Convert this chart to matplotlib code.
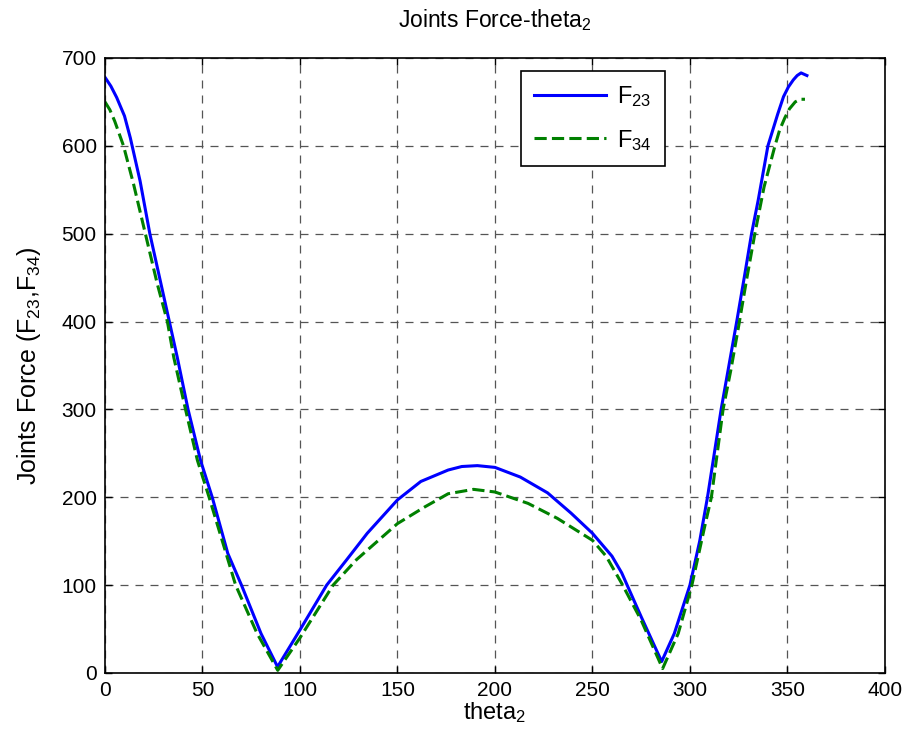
import matplotlib
matplotlib.use('Agg')
import matplotlib.pyplot as plt

plt.rcParams.update({
    'font.family': ['Liberation Sans', 'DejaVu Sans'],
    'mathtext.fontset': 'custom',
    'mathtext.rm': 'Liberation Sans',
    'mathtext.it': 'Liberation Sans',
    'mathtext.default': 'regular',
})

# joint force samples (crank angle in degrees)
theta_f23 = [0, 3, 6, 10, 13, 18, 23, 28, 33, 37, 42.6, 49, 55, 63, 70, 80,
             88.5, 100, 113.7, 124, 134.5, 150, 162, 176, 183, 191, 200, 213,
             227, 239, 250, 260, 265, 275, 285.5, 292, 300, 305, 309, 316, 320,
             324, 328, 331.6, 335, 340, 345, 348, 350.5, 353, 355, 357, 360]
f23 = [678, 668, 655, 634, 609, 560, 500, 450, 400, 360, 300, 242, 200, 136,
       100, 45, 7, 49, 100, 129, 159, 197, 218, 231, 235, 236, 234, 223,
       205, 182, 159, 133, 114, 64, 13, 45, 100, 150, 200, 300, 350,
       400, 452, 500, 538, 600, 636, 656, 667, 675, 680, 683, 680]

theta_f34 = [0, 2.5, 5, 9.5, 14.7, 20.7, 26.8, 32, 35.3, 41.3, 47.4, 53.4, 67,
             78, 88.6, 100, 117, 129, 150, 164, 176, 189, 200, 217, 232, 250,
             257, 265, 275, 286, 294, 301, 307.6, 311, 317, 321, 325, 329,
             333.3, 338, 343.6, 346, 348.7, 351, 354, 356.5, 359]
f34 = [650, 641, 628, 600, 556, 500, 443, 400, 359, 300, 242, 200, 100,
       45, 3, 40, 100, 129, 170, 189, 204, 209, 206, 193, 176, 151,
       133, 102, 60, 5, 45, 100, 167, 200, 300, 345, 395, 447,
       500, 553, 600, 618, 632, 642, 650, 653, 653]

fig = plt.figure(figsize=(9.09, 7.49), dpi=100)
ax = fig.add_axes([0.1155, 0.1015, 0.858, 0.8211])

ax.plot(theta_f23, f23, color='#0000ff', linewidth=2.2, label='$F_{23}$')
ax.plot(theta_f34, f34, color='#008000', linewidth=2.2, linestyle=(0, (4, 1.7)),
        label='$F_{34}$')

ax.set_xlim(0, 400)
ax.set_ylim(0, 700)
ax.set_xticks(range(0, 401, 50))
ax.set_yticks(range(0, 701, 100))
ax.tick_params(direction='in', top=True, right=True, labelsize=15, length=5,
               width=1, pad=6)
for s in ax.spines.values():
    s.set_linewidth(1.2)
ax.grid(True, color='#555555', linestyle=(0, (6.4, 5.6)), linewidth=0.9)

ax.set_title('Joints Force-theta$_2$', fontsize=16.5, pad=22)
ax.set_xlabel('theta$_2$', fontsize=17, labelpad=0)
ax.set_ylabel('Joints Force (F$_{23}$,F$_{34}$)', fontsize=18, labelpad=13)

leg = ax.legend(loc='upper left', bbox_to_anchor=(0.534, 0.979), fontsize=17,
                fancybox=False, framealpha=1, edgecolor='black',
                borderaxespad=0, handlelength=3.05, handletextpad=0.45,
                borderpad=0.55, labelspacing=0.8)
leg.get_frame().set_linewidth(1.2)

fig.savefig('out.png', dpi=100)
